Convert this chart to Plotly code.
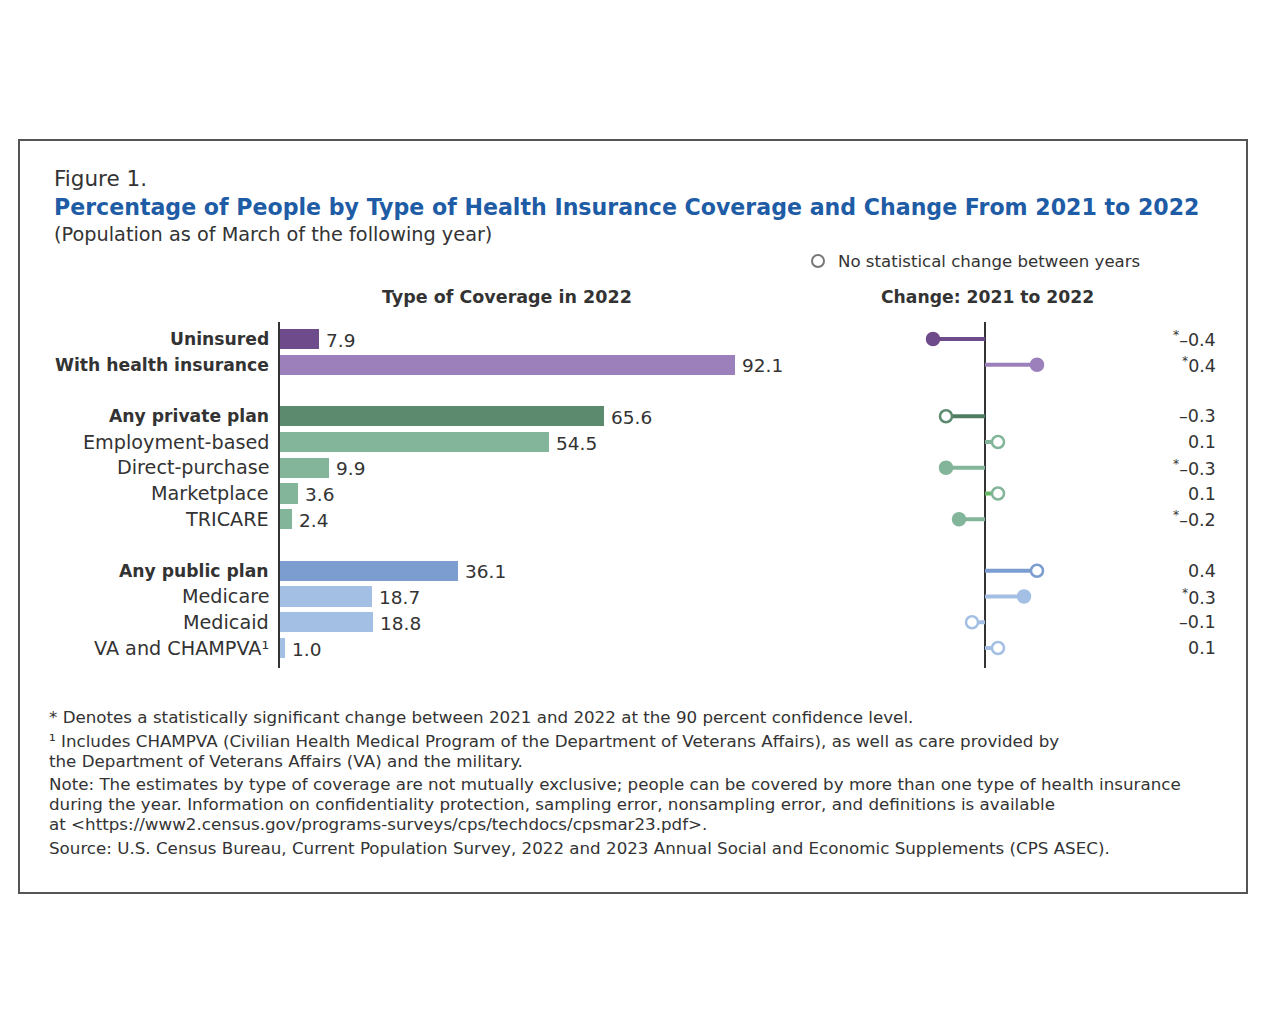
import plotly.graph_objects as go

W, H = 1271, 1015

categories = ["Uninsured", "With health insurance", "Any private plan", "Employment-based",
              "Direct-purchase", "Marketplace", "TRICARE", "Any public plan", "Medicare",
              "Medicaid", "VA and CHAMPVA¹"]
bold_rows = [True, True, True, False, False, False, False, True, False, False, False]
row_pos = [0, 1, 3, 4, 5, 6, 7, 9, 10, 11, 12]
coverage_2022 = [7.9, 92.1, 65.6, 54.5, 9.9, 3.6, 2.4, 36.1, 18.7, 18.8, 1.0]
change_values = [-0.4, 0.4, -0.3, 0.1, -0.3, 0.1, -0.2, 0.4, 0.3, -0.1, 0.1]
significant = [True, True, False, False, True, False, True, False, True, False, False]
change_labels = ["*–0.4", "*0.4", "–0.3", "0.1", "*–0.3", "0.1", "*–0.2", "0.4", "*0.3", "–0.1", "0.1"]

bar_colors = ["#6e4c8b", "#9c80bb", "#5b8a6f", "#83b59a", "#83b59a", "#83b59a", "#83b59a",
              "#7b9dd0", "#a3c0e4", "#a3c0e4", "#a3c0e4"]
line_colors = ["#6e4c8b", "#9c80bb", "#4f7d62", "#83b59a", "#83b59a", "#66b865", "#83b59a",
               "#7b9dd0", "#a3c0e4", "#a3c0e4", "#a3c0e4"]

FONT = "DejaVu Sans"
TXT = "#333333"
OFF = 8  # page body margin

def px(x):
    return (x - OFF) / W

def py(y):
    return 1 - (y - OFF) / H

step = (648 - 339) / 12.0
top_r = (322 - 339) / step
bot_r = (668 - 339) / step

fig = go.Figure()

fig.add_trace(go.Bar(
    x=coverage_2022, y=row_pos, orientation="h",
    marker=dict(color=bar_colors, line=dict(width=0)),
    width=0.78, xaxis="x", yaxis="y", showlegend=False,
))

for r, v, sig, lc, mc in zip(row_pos, change_values, significant, line_colors, bar_colors):
    fig.add_trace(go.Scatter(
        x=[0, v], y=[r, r], mode="lines", line=dict(color=lc, width=4),
        xaxis="x2", yaxis="y2", showlegend=False, hoverinfo="skip"))
    fig.add_trace(go.Scatter(
        x=[v], y=[r], mode="markers",
        marker=dict(size=12, color=mc if sig else "white",
                    line=dict(color=mc, width=2.5)),
        xaxis="x2", yaxis="y2", showlegend=False, cliponaxis=False))

fig.update_layout(
    width=W, height=H, margin=dict(l=0, r=0, t=0, b=0),
    paper_bgcolor="white", plot_bgcolor="white",
    font=dict(family=FONT, color=TXT),
    xaxis=dict(domain=[px(280), px(774)], range=[0, 100], visible=False),
    yaxis=dict(domain=[py(668), py(322)], range=[bot_r, top_r],
               showticklabels=False, showgrid=False, zeroline=False,
               showline=True, linecolor="#333333", linewidth=2),
    xaxis2=dict(domain=[px(855), px(1115)], range=[-1, 1], visible=False),
    yaxis2=dict(domain=[py(668), py(322)], range=[bot_r, top_r], visible=False,
                anchor="x2"),
    bargap=0,
)

shapes = [
    dict(type="rect", xref="paper", yref="paper", x0=px(19), x1=px(1247), y0=py(893), y1=py(140),
         line=dict(color="#555555", width=2), fillcolor="rgba(0,0,0,0)", layer="below"),
    dict(type="line", xref="x2", yref="y2", x0=0, x1=0, y0=top_r, y1=bot_r,
         line=dict(color="#333333", width=2), layer="below"),
    dict(type="circle", xref="paper", yref="paper", x0=px(812), x1=px(824), y0=py(267), y1=py(255),
         line=dict(color="#777777", width=2), fillcolor="white"),
]
fig.update_layout(shapes=shapes)

ann = []
def add_text(x, y, text, size, color=TXT, xanchor="left", bold=False):
    ann.append(dict(xref="paper", yref="paper", x=px(x), y=py(y), text=f"<b>{text}</b>" if bold else text,
                    showarrow=False, xanchor=xanchor, yanchor="middle",
                    font=dict(family=FONT, size=size, color=color)))

add_text(52, 178, "Figure 1.", 21.5)
add_text(52, 207, "Percentage of People by Type of Health Insurance Coverage and Change From 2021 to 2022",
         22.1, color="#1f5ca6", bold=True)
add_text(52, 234, "(Population as of March of the following year)", 19.3)
add_text(836, 261, "No statistical change between years", 16.6)
add_text(507, 297, "Type of Coverage in 2022", 17.5, xanchor="center", bold=True)
add_text(988, 297, "Change: 2021 to 2022", 17.2, xanchor="center", bold=True)

# row labels
for r, c, b in zip(row_pos, categories, bold_rows):
    ann.append(dict(xref="paper", yref="y", x=px(271), y=r,
                    text=f"<b>{c}</b>" if b else c, showarrow=False,
                    xanchor="right", yanchor="middle",
                    font=dict(family=FONT, size=17.2 if b else 19.2, color=TXT)))

# bar value labels
for r, v in zip(row_pos, coverage_2022):
    ann.append(dict(xref="x", yref="y", x=v, y=r, text=f"{v:.1f}", showarrow=False,
                    xanchor="left", yanchor="middle", xshift=5, yshift=-1,
                    font=dict(family=FONT, size=18.5, color=TXT)))

for r, lab in zip(row_pos, change_labels):
    txt = ("<sup>*</sup>" + lab[1:]) if lab.startswith("*") else lab
    ann.append(dict(xref="paper", yref="y2", x=px(1218), y=r, text=txt, showarrow=False,
                    xanchor="right", yanchor="middle",
                    font=dict(family=FONT, size=17.5, color=TXT)))

foot = [
    (717, "* Denotes a statistically significant change between 2021 and 2022 at the 90 percent confidence level."),
    (741, "¹ Includes CHAMPVA (Civilian Health Medical Program of the Department of Veterans Affairs), as well as care provided by"),
    (761, "the Department of Veterans Affairs (VA) and the military."),
    (784, "Note: The estimates by type of coverage are not mutually exclusive; people can be covered by more than one type of health insurance"),
    (804, "during the year. Information on confidentiality protection, sampling error, nonsampling error, and definitions is available"),
    (824, "at &lt;https://www2.census.gov/programs-surveys/cps/techdocs/cpsmar23.pdf&gt;."),
    (848, "Source: U.S. Census Bureau, Current Population Survey, 2022 and 2023 Annual Social and Economic Supplements (CPS ASEC)."),
]
for y, t in foot:
    add_text(47, y, t, 16.7)

fig.update_layout(annotations=ann)
fig.write_html("out.html")
